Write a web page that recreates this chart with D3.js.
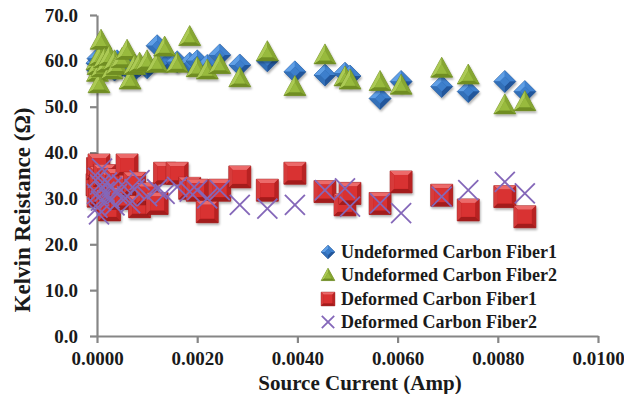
<!DOCTYPE html>
<html>
<head>
<meta charset="utf-8">
<script src="https://cdn.jsdelivr.net/npm/d3@7"></script>
<style>
  html, body { margin: 0; padding: 0; background: #ffffff; }
  svg { display: block; }
  text { font-family: "Liberation Serif", "Times New Roman", serif; font-weight: bold; fill: #1a1a1a; }
</style>
</head>
<body>
<svg id="chart" width="624" height="394"></svg>
<script>
// ---- data ----
const sourceCurrent = [0.00000, 0.00001, 0.00002, 0.00004, 0.00006, 0.00008, 0.00010, 0.00015, 0.00020, 0.00025,
  0.00030, 0.00035, 0.00040, 0.00050, 0.00060, 0.00066, 0.00075, 0.00085, 0.00100, 0.00120,
  0.00135, 0.00160, 0.00185, 0.00200, 0.00220, 0.00245, 0.00285, 0.00340, 0.00395, 0.00455,
  0.00495, 0.00505, 0.00565, 0.00607, 0.00688, 0.00741, 0.00814, 0.00854];

const undeformedFiber1 = [59.5, 58.0, 60.5, 57.5, 59.0, 60.0, 58.5, 59.5, 60.0, 58.5,
  59.0, 58.0, 60.0, 59.0, 58.5, 60.0, 58.0, 59.0, 58.5, 63.3,
  60.0, 59.8, 59.5, 60.0, 59.0, 61.3, 59.1, 60.0, 57.6, 56.9,
  57.3, 56.7, 51.8, 55.5, 54.4, 53.3, 55.5, 53.3];

const undeformedFiber2 = [60.0, 57.5, 59.0, 55.0, 61.0, 64.5, 58.5, 60.5, 59.5, 61.0,
  58.0, 60.0, 59.0, 60.5, 62.3, 55.8, 59.0, 59.5, 60.0, 59.5,
  63.0, 59.5, 65.3, 58.5, 58.0, 59.2, 56.3, 62.0, 54.4, 61.3,
  56.5, 55.8, 55.5, 54.7, 58.4, 56.9, 50.4, 51.1];

const deformedFiber1 = [33.0, 36.5, 30.5, 37.3, 32.2, 34.5, 31.0, 35.0, 29.5, 27.5,
  33.5, 31.5, 34.0, 30.0, 37.3, 32.6, 33.3, 28.2, 31.0, 28.9,
  35.5, 35.5, 32.2, 31.8, 27.1, 31.8, 34.7, 31.8, 35.5, 31.5,
  28.6, 31.1, 28.9, 33.6, 30.7, 27.5, 30.4, 26.0];

const deformedFiber2 = [31.0, 28.0, 34.5, 26.5, 33.0, 29.5, 36.5, 31.5, 33.5, 30.0,
  32.5, 28.5, 31.0, 33.0, 30.5, 29.0, 32.0, 34.0, 30.5, 32.0,
  31.0, 32.5, 31.5, 31.8, 30.0, 31.8, 28.6, 27.8, 28.6, 31.8,
  32.2, 28.2, 28.9, 26.8, 30.4, 31.8, 33.6, 31.1];

const seriesNames = ["Undeformed Carbon Fiber1", "Undeformed Carbon Fiber2",
                     "Deformed Carbon Fiber1", "Deformed Carbon Fiber2"];
const xTicks = [0, 0.002, 0.004, 0.006, 0.008, 0.010];
const yTicks = [0, 10, 20, 30, 40, 50, 60, 70];
const xTitle = "Source Current (Amp)";
const yTitle = "Kelvin Reistance (Ω)";

// ---- layout ----
const svg = d3.select("#chart");
const x = d3.scaleLinear().domain([0, 0.01]).range([97, 598]);
const y = d3.scaleLinear().domain([0, 70]).range([336, 15]);
const axisColor = "#868686";

const defs = svg.append("defs");
const f = defs.append("filter").attr("id", "shadow").attr("x", "-50%").attr("y", "-50%").attr("width", "200%").attr("height", "200%");
f.append("feDropShadow").attr("dx", 1).attr("dy", 2).attr("stdDeviation", 1.3)
  .attr("flood-color", "#000").attr("flood-opacity", 0.3);

// ---- marker drawers ----
function pts(a) { return a.map(p => p.join(",")).join(" "); }

function square(g, s) {
  const o = 11 * s, i = 7 * s;
  g.append("polygon").attr("points", pts([[-o,-o],[o,-o],[o,o],[-o,o]])).attr("fill", "#b52020").attr("stroke", "#8f1717").attr("stroke-width", 0.6);
  g.append("polygon").attr("points", pts([[-o,-o],[o,-o],[i,-i],[-i,-i]])).attr("fill", "#ec6a6a");
  g.append("polygon").attr("points", pts([[-o,-o],[-i,-i],[-i,i],[-o,o]])).attr("fill", "#d63a3a");
  g.append("polygon").attr("points", pts([[o,-o],[o,o],[i,i],[i,-i]])).attr("fill", "#b82424");
  g.append("polygon").attr("points", pts([[-o,o],[o,o],[i,i],[-i,i]])).attr("fill", "#a31b1b");
  g.append("polygon").attr("points", pts([[-i,-i],[i,-i],[i,i],[-i,i]])).attr("fill", "#d93131");
}

function diamond(g, s) {
  const o = 11 * s, i = 5 * s;
  g.append("polygon").attr("points", pts([[0,-o],[o,0],[0,o],[-o,0]])).attr("fill", "#2c62a8").attr("stroke", "#224f8a").attr("stroke-width", 0.6);
  g.append("polygon").attr("points", pts([[0,-o],[-o,0],[-i,0],[0,-i]])).attr("fill", "#5f9fe6");
  g.append("polygon").attr("points", pts([[0,-o],[o,0],[i,0],[0,-i]])).attr("fill", "#3f82cf");
  g.append("polygon").attr("points", pts([[o,0],[0,o],[0,i],[i,0]])).attr("fill", "#23579b");
  g.append("polygon").attr("points", pts([[-o,0],[0,o],[0,i],[-i,0]])).attr("fill", "#336fb8");
  g.append("polygon").attr("points", pts([[0,-i],[i,0],[0,i],[-i,0]])).attr("fill", "#3c7fcc");
}

function triangle(g, s) {
  const A = [0, -11 * s], B = [11 * s, 9 * s], C = [-11 * s, 9 * s];
  const cy = (A[1] + B[1] + C[1]) / 3, k = 0.5;
  const a = [0, cy + (A[1] - cy) * k], b = [B[0] * k, cy + (B[1] - cy) * k], c = [C[0] * k, cy + (C[1] - cy) * k];
  g.append("polygon").attr("points", pts([A, B, C])).attr("fill", "#7a9a2a").attr("stroke", "#66821f").attr("stroke-width", 0.6);
  g.append("polygon").attr("points", pts([A, a, c, C])).attr("fill", "#acca55");
  g.append("polygon").attr("points", pts([A, B, b, a])).attr("fill", "#86a633");
  g.append("polygon").attr("points", pts([C, c, b, B])).attr("fill", "#6f8d22");
  g.append("polygon").attr("points", pts([a, b, c])).attr("fill", "#98ba3e");
}

function cross(g, s) {
  const o = 10 * s;
  g.append("line").attr("x1", -o).attr("y1", -o).attr("x2", o).attr("y2", o).attr("stroke", "#8467b9").attr("stroke-width", 1.8);
  g.append("line").attr("x1", -o).attr("y1", o).attr("x2", o).attr("y2", -o).attr("stroke", "#8467b9").attr("stroke-width", 1.8);
}

const drawers = [diamond, triangle, square, cross];
const seriesValues = [undeformedFiber1, undeformedFiber2, deformedFiber1, deformedFiber2];

// ---- axes ----
const gy = svg.append("g").attr("transform", `translate(${x(0)},0)`)
  .call(d3.axisLeft(y).tickValues(yTicks).tickFormat(d3.format(".1f")).tickSize(7).tickSizeOuter(0).tickPadding(12));
const gx = svg.append("g").attr("transform", `translate(0,${y(0)})`)
  .call(d3.axisBottom(x).tickValues(xTicks).tickFormat(d3.format(".4f")).tickSize(7).tickSizeOuter(0).tickPadding(9));
[gy, gx].forEach(g => {
  g.select(".domain").attr("stroke", axisColor).attr("stroke-width", 2.2);
  g.selectAll(".tick line").attr("stroke", axisColor).attr("stroke-width", 2.2);
  g.selectAll(".tick text").style("font-family", "'Liberation Serif', 'Times New Roman', serif")
    .style("font-weight", "bold").style("font-size", "19px").attr("fill", "#1a1a1a");
});

// ---- points ----
seriesValues.forEach((vals, si) => {
  const layer = svg.append("g").attr("filter", si === 3 ? null : "url(#shadow)");
  vals.forEach((v, i) => {
    const g = layer.append("g").attr("transform", `translate(${x(sourceCurrent[i])},${y(v)})`);
    drawers[si](g, 1);
  });
});

// ---- titles ----
svg.append("text").attr("x", 360).attr("y", 390).attr("text-anchor", "middle")
  .style("font-size", "21px").text(xTitle);
svg.append("text").attr("transform", `translate(30,210) rotate(-90)`).attr("text-anchor", "middle")
  .style("font-size", "23px").text(yTitle);

// ---- legend ----
const legendRows = [252, 275, 299, 322];
const legend = svg.append("g");
seriesNames.forEach((name, i) => {
  const g = legend.append("g").attr("transform", `translate(328,${legendRows[i]})`);
  drawers[i](g, 0.62);
  legend.append("text").attr("x", 341).attr("y", legendRows[i]).attr("dy", "0.35em")
    .style("font-size", "18px").text(name);
});
</script>
</body>
</html>
